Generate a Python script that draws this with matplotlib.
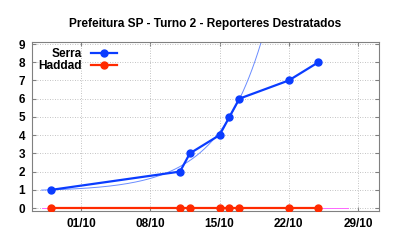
import numpy as np
import matplotlib
matplotlib.use("Agg")
import matplotlib.pyplot as plt
import matplotlib.dates as mdates
from datetime import date

plt.rcParams['font.family'] = ['Liberation Sans', 'DejaVu Sans']

# dados (2012)
serra_dias = [date(2012, 9, 28), date(2012, 10, 11), date(2012, 10, 12), date(2012, 10, 15),
              date(2012, 10, 16), date(2012, 10, 17), date(2012, 10, 22), date(2012, 10, 25)]
serra_vals = [1, 2, 3, 4, 5, 6, 7, 8]
haddad_dias = serra_dias
haddad_vals = [0, 0, 0, 0, 0, 0, 0, 0]
fit_inicio = date(2012, 9, 27)
fit_fim = date(2012, 10, 28)
ticks_x = [date(2012, 10, 1), date(2012, 10, 8), date(2012, 10, 15), date(2012, 10, 22), date(2012, 10, 29)]

blue = '#0a3cff'
red = '#ff2a00'

fig = plt.figure(figsize=(4, 2.4), dpi=100)
ax = fig.add_axes([0.08, 0.121, 0.8675, 0.704])

# tendencia: y = c + a*exp(b*t) ajustada aos 6 primeiros pontos
t0 = mdates.date2num(date(2012, 10, 1))
ts = mdates.date2num(serra_dias[:6]) - t0
ys = np.array(serra_vals[:6], dtype=float)
melhor = None
for b in np.linspace(0.05, 0.5, 451):
    A = np.column_stack([np.ones_like(ts), np.exp(b * ts)])
    sol, res, _, _ = np.linalg.lstsq(A, ys, rcond=None)
    r = np.sum((A @ sol - ys) ** 2)
    if melhor is None or r < melhor[0]:
        melhor = (r, b, sol)
_, b, (c, a) = melhor
tt = np.linspace(mdates.date2num(fit_inicio), mdates.date2num(fit_fim), 400)
ax.plot(tt, c + a * np.exp(b * (tt - t0)), color='#6a8cff', lw=0.7, zorder=2)
hc = np.polyfit(mdates.date2num(haddad_dias) - t0, haddad_vals, 1)
ax.plot(tt, np.polyval(hc, tt - t0), color='#ff66ff', lw=0.7, zorder=2)

ax.plot(serra_dias, serra_vals, '-o', color=blue, lw=1.6, ms=5, label='Serra', zorder=3)
ax.plot(haddad_dias, haddad_vals, '-o', color=red, lw=1.6, ms=5, label='Haddad', zorder=3)

ax.set_xlim(mdates.date2num(date(2012, 9, 26)) + 0.03, mdates.date2num(date(2012, 10, 31)) + 0.13)
ax.set_ylim(-0.16, 9.11)
ax.set_yticks(range(10))
ax.set_xticks(ticks_x)
ax.xaxis.set_major_formatter(mdates.DateFormatter('%d/%m'))

ax.grid(True, color='#b0b0b0', ls=(0, (1, 2)), lw=0.6)
for s in ax.spines.values():
    s.set_color('#808080')
ax.tick_params(direction='in', length=3, color='#808080', top=True, right=True,
               labelsize=8.5, pad=5)
for lab in ax.get_xticklabels() + ax.get_yticklabels():
    lab.set_fontweight('bold')

ax.set_title('Prefeitura SP - Turno 2 - Reporteres Destratados', fontsize=8.6,
             fontweight='bold', pad=11)

leg = ax.legend(loc='upper left', markerfirst=False, frameon=False,
                handlelength=2.2, borderaxespad=0.1, labelspacing=0.0,
                prop={'weight': 'bold', 'size': 8.6})

fig.savefig('out.png', dpi=100)
